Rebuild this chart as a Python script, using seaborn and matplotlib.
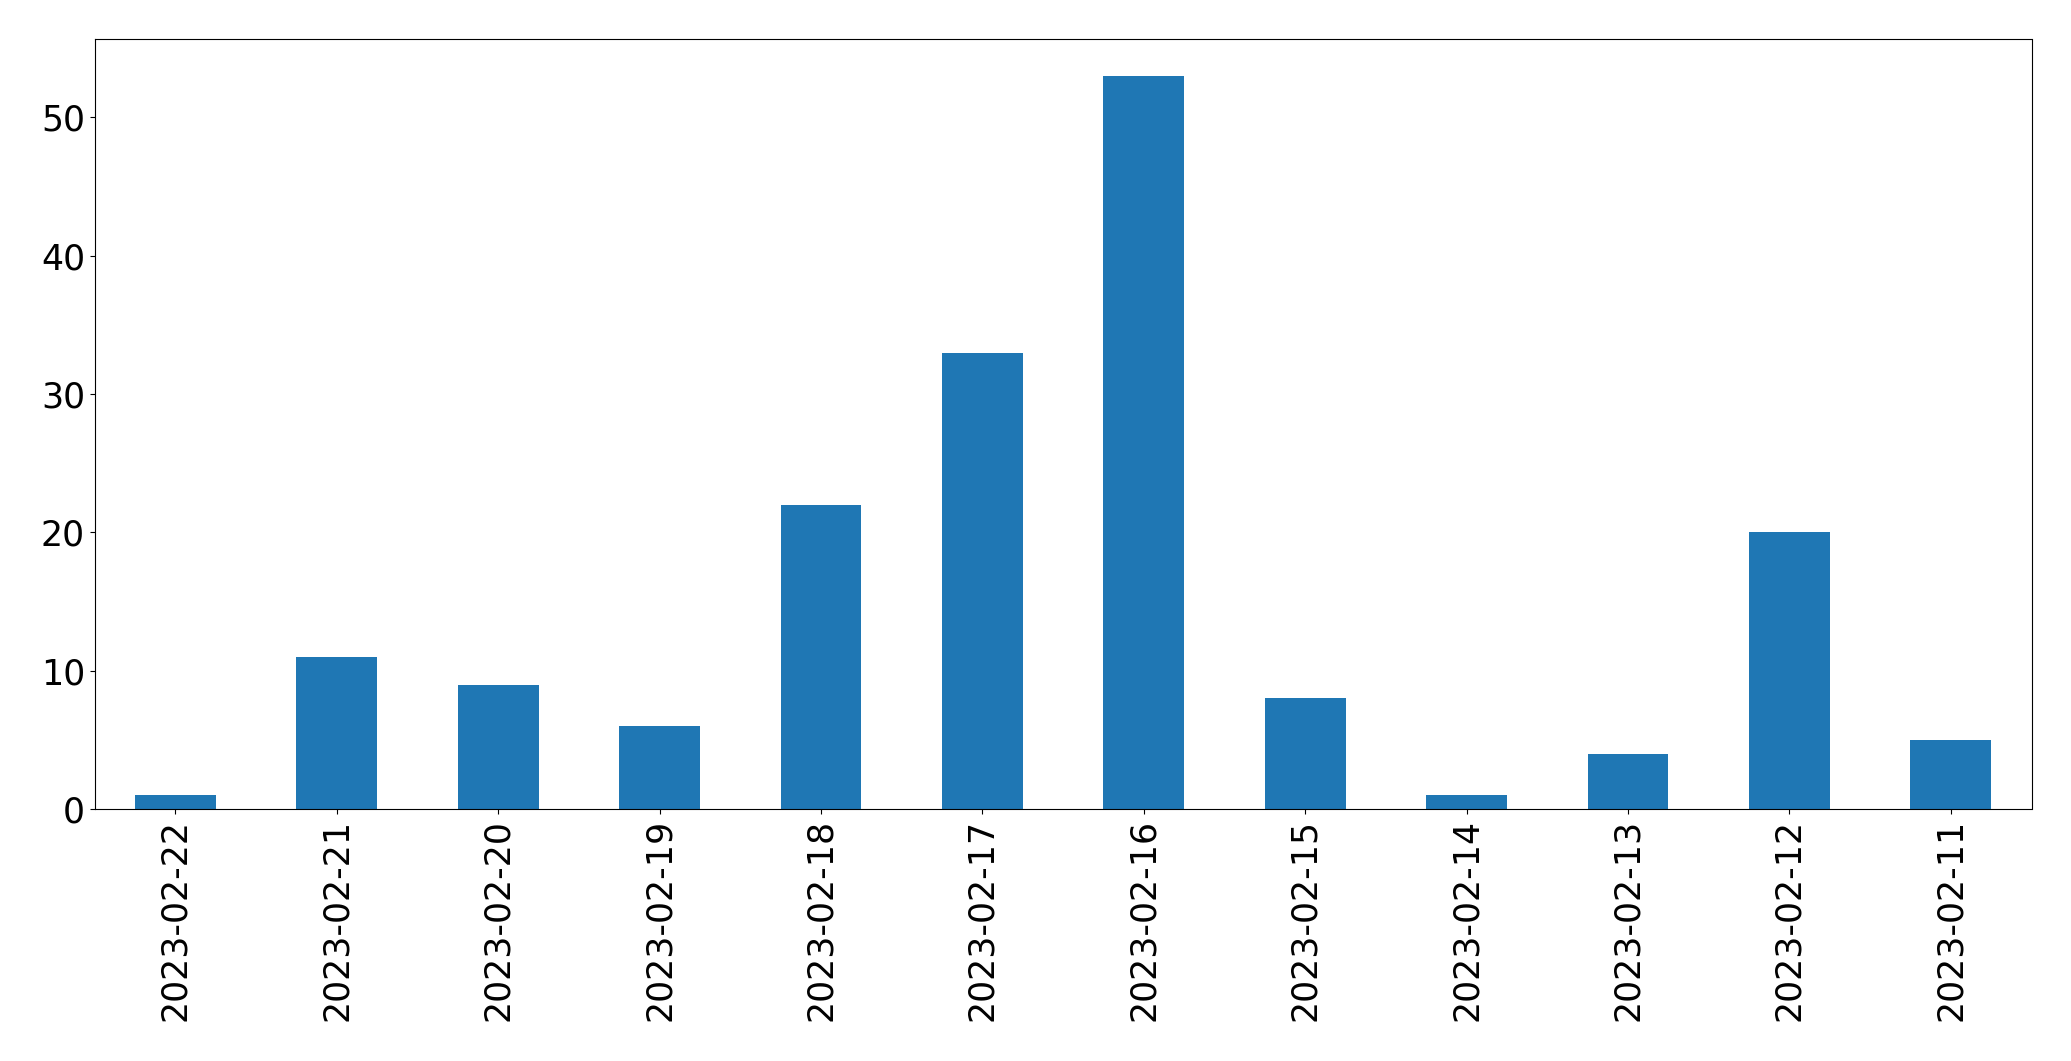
import matplotlib
matplotlib.use("Agg")
import matplotlib.pyplot as plt
import seaborn as sns
import pandas as pd

dates = ["2023-02-22", "2023-02-21", "2023-02-20", "2023-02-19", "2023-02-18", "2023-02-17",
         "2023-02-16", "2023-02-15", "2023-02-14", "2023-02-13", "2023-02-12", "2023-02-11"]
counts = [1, 11, 9, 6, 22, 33, 53, 8, 1, 4, 20, 5]

df = pd.DataFrame({"date": dates, "count": counts})

fig = plt.figure(figsize=(20.71, 10.61), dpi=100)
ax = fig.add_axes([94.7 / 2071, 1 - 809 / 1061, (2031.5 - 94.7) / 2071, (809 - 39.3) / 1061])
sns.barplot(data=df, x="date", y="count", order=dates, color="#1f77b4", saturation=1,
            width=0.5, ax=ax)
ax.set_xlim(-0.5, len(dates) - 0.5)
ax.set_ylim(0, max(counts) * 1.05)
ax.set_xlabel("")
ax.set_ylabel("")
ax.tick_params(axis="both", labelsize=25)
plt.setp(ax.get_xticklabels(), rotation=90)
fig.savefig("out.png", dpi=100)
